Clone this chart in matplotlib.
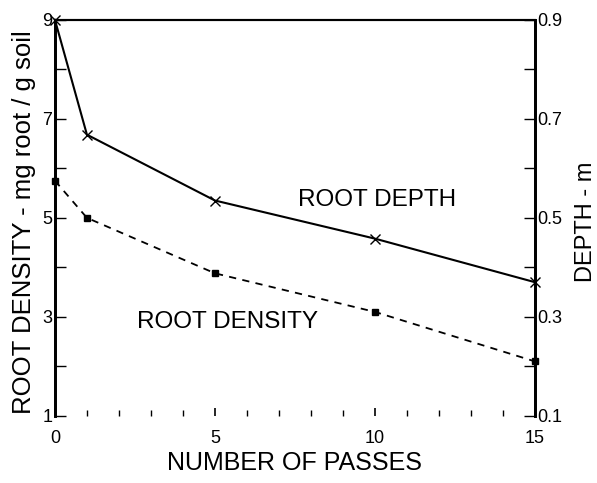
import matplotlib
matplotlib.use("Agg")
import matplotlib.pyplot as plt
from matplotlib.ticker import FuncFormatter, MultipleLocator

plt.rcParams['font.family'] = ['Liberation Sans', 'DejaVu Sans']

passes = [0, 1, 5, 10, 15]
root_depth_m = [0.9, 0.668, 0.535, 0.458, 0.37]
root_density = [5.75, 5.0, 3.88, 3.1, 2.1]

fig = plt.figure(figsize=(5.97, 4.83), dpi=100)
ax = fig.add_axes([0.092, 0.139, 0.804, 0.82])
ax2 = ax.twinx()

ax.plot(passes, root_density, color='black', linestyle=(0, (4, 3.5)), linewidth=1.3,
        marker='s', markersize=4, markerfacecolor='black', clip_on=False, zorder=3)
ax2.plot(passes, root_depth_m, color='black', linestyle='-', linewidth=1.5,
         marker='x', markersize=7, markeredgewidth=1.0, clip_on=False, zorder=3)

ax.set_xlim(0, 15)
ax.set_ylim(1, 9)
ax2.set_ylim(0.1, 0.9)

for a in (ax, ax2):
    a.spines['bottom'].set_visible(False)
    a.spines['left'].set_linewidth(2.0)
    a.spines['right'].set_linewidth(2.0)
    a.spines['top'].set_linewidth(1.5)

ax.xaxis.set_major_locator(MultipleLocator(5))
ax.xaxis.set_minor_locator(MultipleLocator(1))
ax.tick_params(axis='x', which='major', direction='in', length=6, width=1.2, labelsize=13, pad=10)
ax.tick_params(axis='x', which='minor', direction='in', length=4, width=1.0)

ax.yaxis.set_major_locator(MultipleLocator(1))
ax.yaxis.set_major_formatter(FuncFormatter(lambda v, p: f"{int(round(v))}" if int(round(v)) % 2 == 1 else ""))
ax.tick_params(axis='y', which='major', direction='in', length=8, width=1.0, labelsize=13, pad=2)

ax2.yaxis.set_major_locator(MultipleLocator(0.1))
ax2.yaxis.set_major_formatter(FuncFormatter(lambda v, p: f"{v:.1f}" if int(round(v * 10)) % 2 == 1 else ""))
ax2.tick_params(axis='y', which='major', direction='in', length=8, width=1.0, labelsize=13, pad=2)

ax.set_xlabel("NUMBER OF PASSES", fontsize=18)
ax.xaxis.set_label_coords(0.5, -0.088)
ax.set_ylabel("ROOT DENSITY - mg root / g soil", fontsize=18.5)
ax.yaxis.set_label_coords(-0.04, 0.49)
ax2.set_ylabel("DEPTH - m", fontsize=17)
ax2.yaxis.set_label_coords(1.083, 0.49)

ax2.text(7.6, 0.536, "ROOT DEPTH", fontsize=17.5, va='center')
ax.text(2.55, 2.9, "ROOT DENSITY", fontsize=17.5, va='center')

fig.savefig("out.png", dpi=100)
